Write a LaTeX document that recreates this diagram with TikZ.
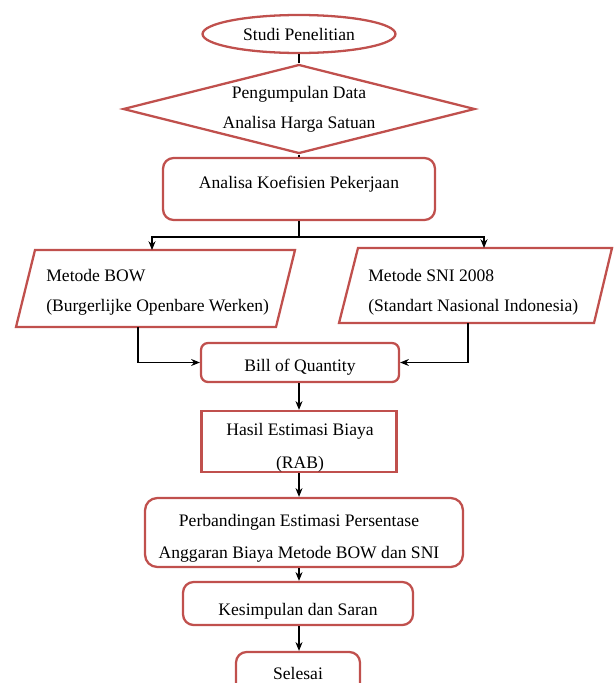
\documentclass[tikz,border=0pt]{standalone}
\usepackage{fontspec}
\setmainfont{Liberation Serif}
\usetikzlibrary{shapes.geometric,arrows.meta}
\definecolor{boxred}{HTML}{C0504D}
\begin{document}
\begin{tikzpicture}[x=0.02cm, y=-0.02cm,
    every node/.style={font=\fontsize{10}{17}\selectfont, align=center, inner sep=0pt},
    box/.style={draw=boxred, line width=1.3pt},
    proc/.style={box, rounded corners=4pt},
    arr/.style={-{Stealth[length=5pt,width=4pt]}, line width=0.6pt},
    link/.style={line width=0.6pt}]
  \useasboundingbox (0,0) rectangle (614,683);
  \node[box, ellipse, minimum width=3.86cm, minimum height=0.76cm] (studi) at (299,34) {Studi Penelitian};
  \node[box, diamond, aspect=4, minimum width=7.04cm, minimum height=1.78cm] (data) at (299,109) {Pengumpulan Data\\Analisa Harga Satuan};
  \node[proc, rounded corners=6pt, minimum width=5.44cm, minimum height=1.24cm,
        text height=6.9pt, text depth=7.8pt] (koef) at (299,189) {Analisa Koefisien Pekerjaan};
  % dua metode
  \draw[box] (35,250) -- (295,250) -- (276,327) -- (16,327) -- cycle;
  \draw[box] (358,248) -- (612,248) -- (594,323) -- (339,323) -- cycle;
  \node[anchor=west, align=left] (bow) at (46,292) {Metode BOW\\(Burgerlijke Openbare Werken)};
  \node[anchor=west, align=left] (sni) at (368,292) {Metode SNI 2008\\(Standart Nasional Indonesia)};
  \coordinate (split) at (299,237);
  \coordinate (bowin) at (152,250);
  \coordinate (sniin) at (484,248);
  \coordinate (bowout) at (138,327);
  \coordinate (sniout) at (468,323);
  \node[proc, minimum width=3.96cm, minimum height=0.78cm,
        text height=12pt, text depth=2.2pt] (bill) at (300,362.5) {Bill of Quantity};
  \node[box, minimum width=3.9cm, minimum height=1.22cm] (hasil) at (299,441.5) {};
  \node[font=\fontsize{10}{19}\selectfont] (hasiltxt) at (300,448) {Hasil Estimasi Biaya\\(RAB)};
  \node[proc, rounded corners=7pt, minimum width=6.36cm, minimum height=1.38cm] (banding) at (304,532.5) {};
  \node[font=\fontsize{10}{18}\selectfont] (bandingtxt) at (299,538.5) {Perbandingan Estimasi Persentase\\Anggaran Biaya Metode BOW dan SNI};
  \node[proc, rounded corners=6pt, minimum width=4.6cm, minimum height=0.86cm,
        text height=15.5pt, text depth=2.2pt] (simpul) at (298,603.5) {Kesimpulan dan Saran};
  \node[proc, rounded corners=6pt, minimum width=2.48cm, minimum height=0.86cm] (selesai) at (298,673.5) {Selesai};
  \begin{scope}[link]
    \draw (studi) -- (data);
    \draw (data) -- (koef);
    \draw (koef) -- (split);
  \end{scope}
  \begin{scope}[arr]
    \draw (split) -| (bowin);
    \draw (split) -| (sniin);
    \draw (bowout) |- (bill);
    \draw (sniout) |- (bill);
    \draw (bill.south -| hasil) -- (hasil);
    \draw (hasil) -- (hasil |- banding.north);
    \draw (hasil |- banding.south) -- (hasil |- simpul.north);
    \draw (hasil |- simpul.south) -- (hasil |- selesai.north);
  \end{scope}
\end{tikzpicture}
\end{document}
